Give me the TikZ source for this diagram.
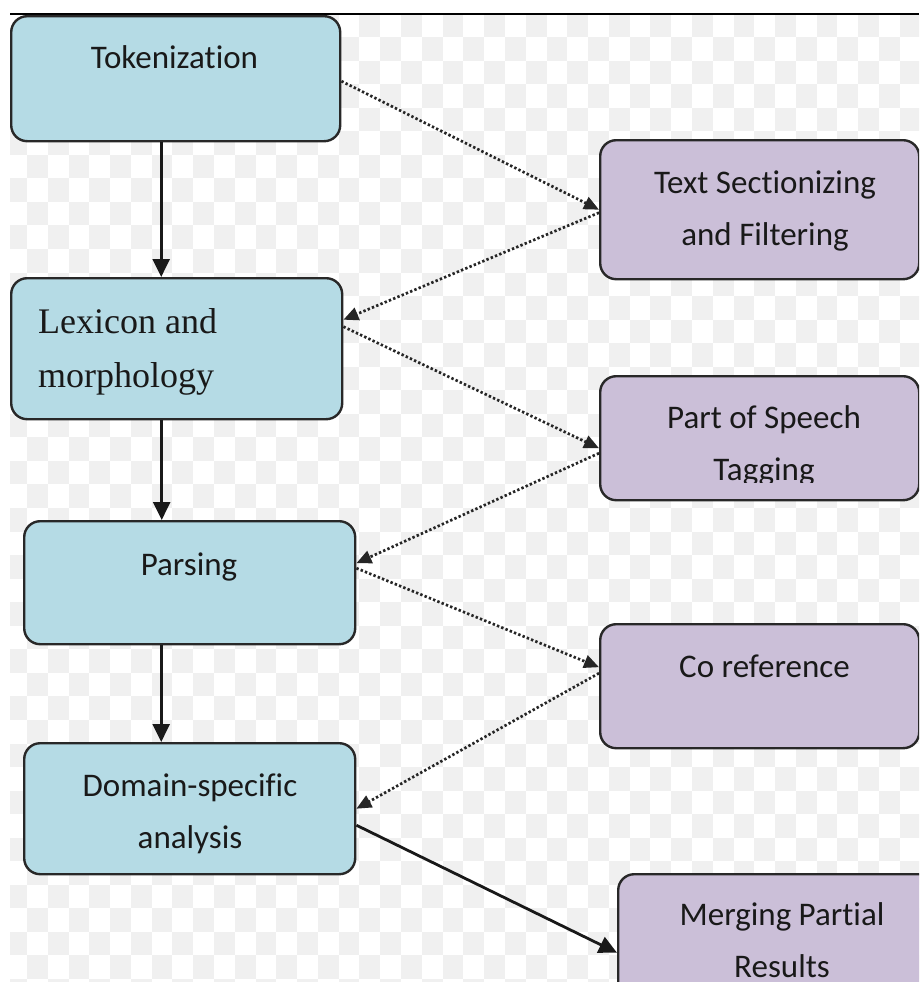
\documentclass[tikz,border=0pt]{standalone}
\usepackage{fontspec}
\setmainfont{Carlito}[Ligatures={NoCommon,NoContextual}]
\newfontfamily\serifface{Liberation Serif}
\usetikzlibrary{arrows.meta,calc}
\definecolor{boxblue}{RGB}{181,219,229}
\definecolor{boxpurple}{RGB}{203,191,216}
\definecolor{checkgray}{RGB}{240,240,240}
\definecolor{edgec}{RGB}{40,40,40}
\definecolor{txt}{RGB}{25,25,25}
\begin{document}
\begin{tikzpicture}[x=1pt,y=-1pt,
  bluebox/.style={draw=edgec, line width=2.4pt, fill=boxblue, rounded corners=16pt, anchor=north west, inner sep=0pt},
  purplebox/.style={draw=edgec, line width=2.4pt, fill=boxpurple, rounded corners=16pt, anchor=north west, inner sep=0pt},
  lbl/.style={font=\fontsize{33}{52}\selectfont, text=txt, align=center, inner sep=0pt, anchor=base},
  serlbl/.style={font=\serifface\fontsize{36}{54}\selectfont, text=txt, align=left, inner sep=0pt, anchor=base west},
  solidarrow/.style={line width=2.8pt, draw=black!90, -{Triangle[length=18pt,width=17pt]}},
  dotarrow/.style={line width=2.7pt, draw=black!85, dash pattern=on 2.4pt off 2.2pt, -{Triangle[length=15pt,width=13pt]}}
]
\useasboundingbox (0,0) rectangle (919,982);
\clip (0,0) rectangle (919,982);
% transparency checkerboard
\begin{scope}
\clip (10,16) rectangle (919,982);
\foreach \i in {-1,...,43}{
  \foreach \j in {-1,...,40}{
    \pgfmathtruncatemacro\cpar{\i+\j+100}
    \ifodd\cpar
      \fill[checkgray] ({27+\i*20.78},{37+\j*23.55}) rectangle ++(20.78,23.55);
    \fi
  }}
\end{scope}
\draw[line width=2.2pt] (10,14.3) -- (919,14.3);

% boxes
\node[bluebox, minimum width=329pt, minimum height=125pt] (tok) at (10,15) {};
\node[bluebox, minimum width=331pt, minimum height=141pt] (lex) at (10,277) {};
\node[bluebox, minimum width=331pt, minimum height=123pt] (par) at (23,520) {};
\node[bluebox, minimum width=331pt, minimum height=131pt] (dom) at (23,742) {};
\node[purplebox, minimum width=319pt, minimum height=139pt] (ts) at (599,139) {};
\node[purplebox, minimum width=319pt, minimum height=124pt] (pos) at (599,375) {};
\node[purplebox, minimum width=319pt, minimum height=124pt] (cor) at (599,623) {};
\node[purplebox, minimum width=330pt, minimum height=157pt] (mer) at (617,873) {};

% texts (base anchor = baseline of the last line)
\node[lbl] (tokT) at (174.5,68) {Tokenization};
\node[serlbl] (lexT) at (38,387) {Lexicon and\\morphology};
\node[lbl] (parT) at (189,575) {Parsing};
\node[lbl] (domT) at (190,848) {Domain-specific\\analysis};
\node[lbl] (tsT) at (765,245) {Text Sectionizing\\and Filtering};
\begin{scope}
\clip (599,375) rectangle (918,482);
\node[lbl] (posT) at (764,480) {Part of Speech\\Tagging};
\end{scope}
\node[lbl] (corT) at (764.5,677) {Co reference};
\node[lbl] (merT) at (782,977) {Merging Partial\\Results};

% connectors
\draw[solidarrow] ([xshift=-14.5pt]tok.south) -- ([xshift=-14.5pt]tok.south |- lex.north);
\draw[solidarrow] ([xshift=-15pt]lex.south) -- ([xshift=-15pt]lex.south |- par.north);
\draw[solidarrow] ([xshift=-28.5pt]par.south) -- ([xshift=-28.5pt]par.south |- dom.north);
\draw[dotarrow] ([yshift=-2.5pt]tok.east) -- (ts.west);
\draw[dotarrow] ([yshift=-3pt]ts.west) -- ([yshift=29pt]lex.east);
\draw[dotarrow] ([yshift=22pt]lex.east) -- ([yshift=-10pt]pos.west);
\draw[dotarrow] ([yshift=-15pt]pos.west) -- ([yshift=19.5pt]par.east);
\draw[dotarrow] ([yshift=14.5pt]par.east) -- ([yshift=19pt]cor.west);
\draw[dotarrow] ([yshift=13pt]cor.west) -- (dom.east);
\draw[solidarrow] ([yshift=-16.5pt]dom.east) -- (mer.west);
\end{tikzpicture}
\end{document}
